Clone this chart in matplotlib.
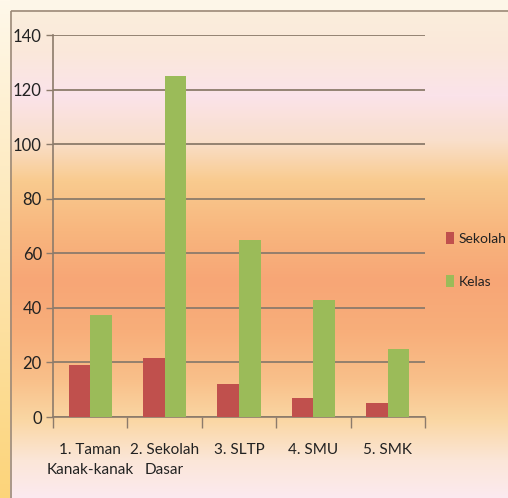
import numpy as np
import matplotlib
matplotlib.use("Agg")
import matplotlib.pyplot as plt
from matplotlib.colors import to_rgb
from matplotlib.patches import Rectangle

# data
categories = ["1. Taman\nKanak-kanak", "2. Sekolah\nDasar", "3. SLTP", "4. SMU", "5. SMK"]
sekolah = [19, 21.5, 12, 7, 5]
kelas = [37.5, 125, 65, 43, 25]
yticks = [0, 20, 40, 60, 80, 100, 120, 140]

W, H = 508, 498
fig = plt.figure(figsize=(W / 100, H / 100), dpi=100)

# background gradient
stops_y = [0, 10, 50, 95, 140, 180, 230, 280, 330, 380, 420, 460, 498]
stops_c = ["#fdf5e6", "#fbeedc", "#fae8da", "#fbe3ea", "#f9dfcb", "#f9cb8f", "#f8b67e",
           "#f7a676", "#f8ae7a", "#f9c08a", "#fad7a4", "#fbe6d8", "#fceaf0"]
rows = np.arange(H)
cols = np.array([to_rgb(c) for c in stops_c])
grad = np.stack([np.interp(rows, stops_y, cols[:, k]) for k in range(3)], axis=1)
img = np.repeat(grad[:, None, :], W, axis=1)
# outer strips
top = np.array(to_rgb("#fdf6e8"))
img[:10, :, :] = top
left_top, left_bot = np.array(to_rgb("#fff8ea")), np.array(to_rgb("#fcd47a"))
t = (rows / (H - 1))[:, None]
img[:, :10, :] = (left_top * (1 - t) + left_bot * t)[:, None, :]

bg = fig.add_axes([0, 0, 1, 1], zorder=-1)
bg.imshow(img, extent=[0, W, H, 0], aspect="auto")
bg.add_patch(Rectangle((10.5, 10.5), W, H, fill=False, edgecolor="#9c8a78", linewidth=1.2))
bg.set_xlim(0, W)
bg.set_ylim(H, 0)
bg.axis("off")

plt.rcParams["font.family"] = ["Lato", "DejaVu Sans"]

left, right, ytop, ybot = 53, 425, 35, 417
ax = fig.add_axes([left / W, 1 - ybot / H, (right - left) / W, (ybot - ytop) / H])
ax.patch.set_alpha(0)

x = np.arange(len(categories))
bw = 0.29
ax.bar(x - bw / 2, sekolah, bw, color="#c0504d", label="Sekolah", zorder=3)
ax.bar(x + bw / 2, kelas, bw, color="#9bbb59", label="Kelas", zorder=3)

ax.set_xlim(-0.5, len(categories) - 0.5)
ax.set_ylim(0, 140)
ax.set_yticks(yticks)
ax.tick_params(axis="y", length=5, width=1, color="#8c7b6b", pad=3, labelsize=12,
               labelcolor="#222222")
ax.yaxis.grid(True, color="#8c7b6b", linewidth=1.3, zorder=1)

ax.set_xticks(np.arange(len(categories) + 1) - 0.5)
ax.set_xticklabels([])
ax.tick_params(axis="x", which="major", length=8, width=1, color="#8c7b6b")
ax.set_xticks(x, minor=True)
ax.set_xticklabels(categories, minor=True, fontsize=11, color="#222222", linespacing=1.5)
ax.tick_params(axis="x", which="minor", length=0, pad=19)

for s in ["top", "right"]:
    ax.spines[s].set_visible(False)
for s in ["left", "bottom"]:
    ax.spines[s].set_color("#8c7b6b")
    ax.spines[s].set_linewidth(1.2)

fig.legend(loc="center left", bbox_to_anchor=(446 / W, 1 - 260 / H), frameon=False,
           borderpad=0, borderaxespad=0, fontsize=10, handlelength=0.6, handleheight=0.9,
           handletextpad=0.3, labelspacing=2.2, labelcolor="#222222")

fig.savefig("out.png", dpi=100)
